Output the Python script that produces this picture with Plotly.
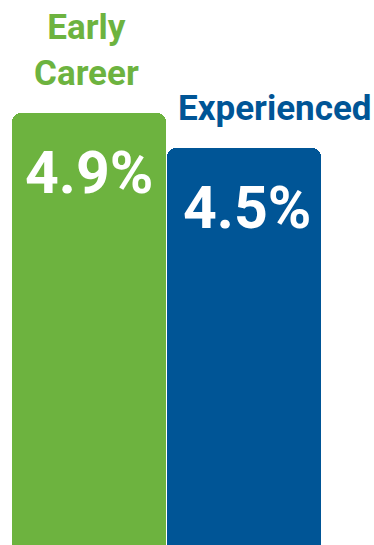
import plotly.graph_objects as go

# Rate by career stage
categories = ["Early Career", "Experienced"]
label_lines = ["Early<br>Career", "Experienced"]
rates = [4.9, 4.5]
colors = ["#6db33f", "#005596"]

FONT = "Roboto, Arial, sans-serif"

fig = go.Figure(
    go.Bar(
        x=categories,
        y=rates,
        width=0.995,
        marker=dict(color=colors, cornerradius=9, line=dict(width=0)),
        hoverinfo="skip",
    )
)

# Category headings above each bar
heading_shift_x = [-3, 31]
heading_shift_y = [17, 17]
for cat, txt, val, col, dx, dy in zip(categories, label_lines, rates, colors,
                                       heading_shift_x, heading_shift_y):
    fig.add_annotation(
        x=cat, y=val, text=f"<b>{txt}</b>", showarrow=False,
        xanchor="center", yanchor="bottom", xshift=dx, yshift=dy,
        font=dict(family=FONT, size=35, color=col),
    )

# Value labels inside the bars
value_shift_x = [0, 3]
for cat, val, dx in zip(categories, rates, value_shift_x):
    fig.add_annotation(
        x=cat, y=val, text=f"<b>{val:.1f}%</b>", showarrow=False,
        xanchor="center", yanchor="top", xshift=dx, yshift=-23,
        font=dict(family=FONT, size=59, color="white"),
    )

fig.update_layout(
    width=374, height=545,
    margin=dict(l=0, r=0, t=0, b=0),
    paper_bgcolor="white", plot_bgcolor="white",
    showlegend=False,
    bargap=0,
    xaxis=dict(range=[-0.577, 1.840], visible=False, fixedrange=True),
    yaxis=dict(range=[0, 6.182], visible=False, fixedrange=True),
)

fig.write_html("out.html")
